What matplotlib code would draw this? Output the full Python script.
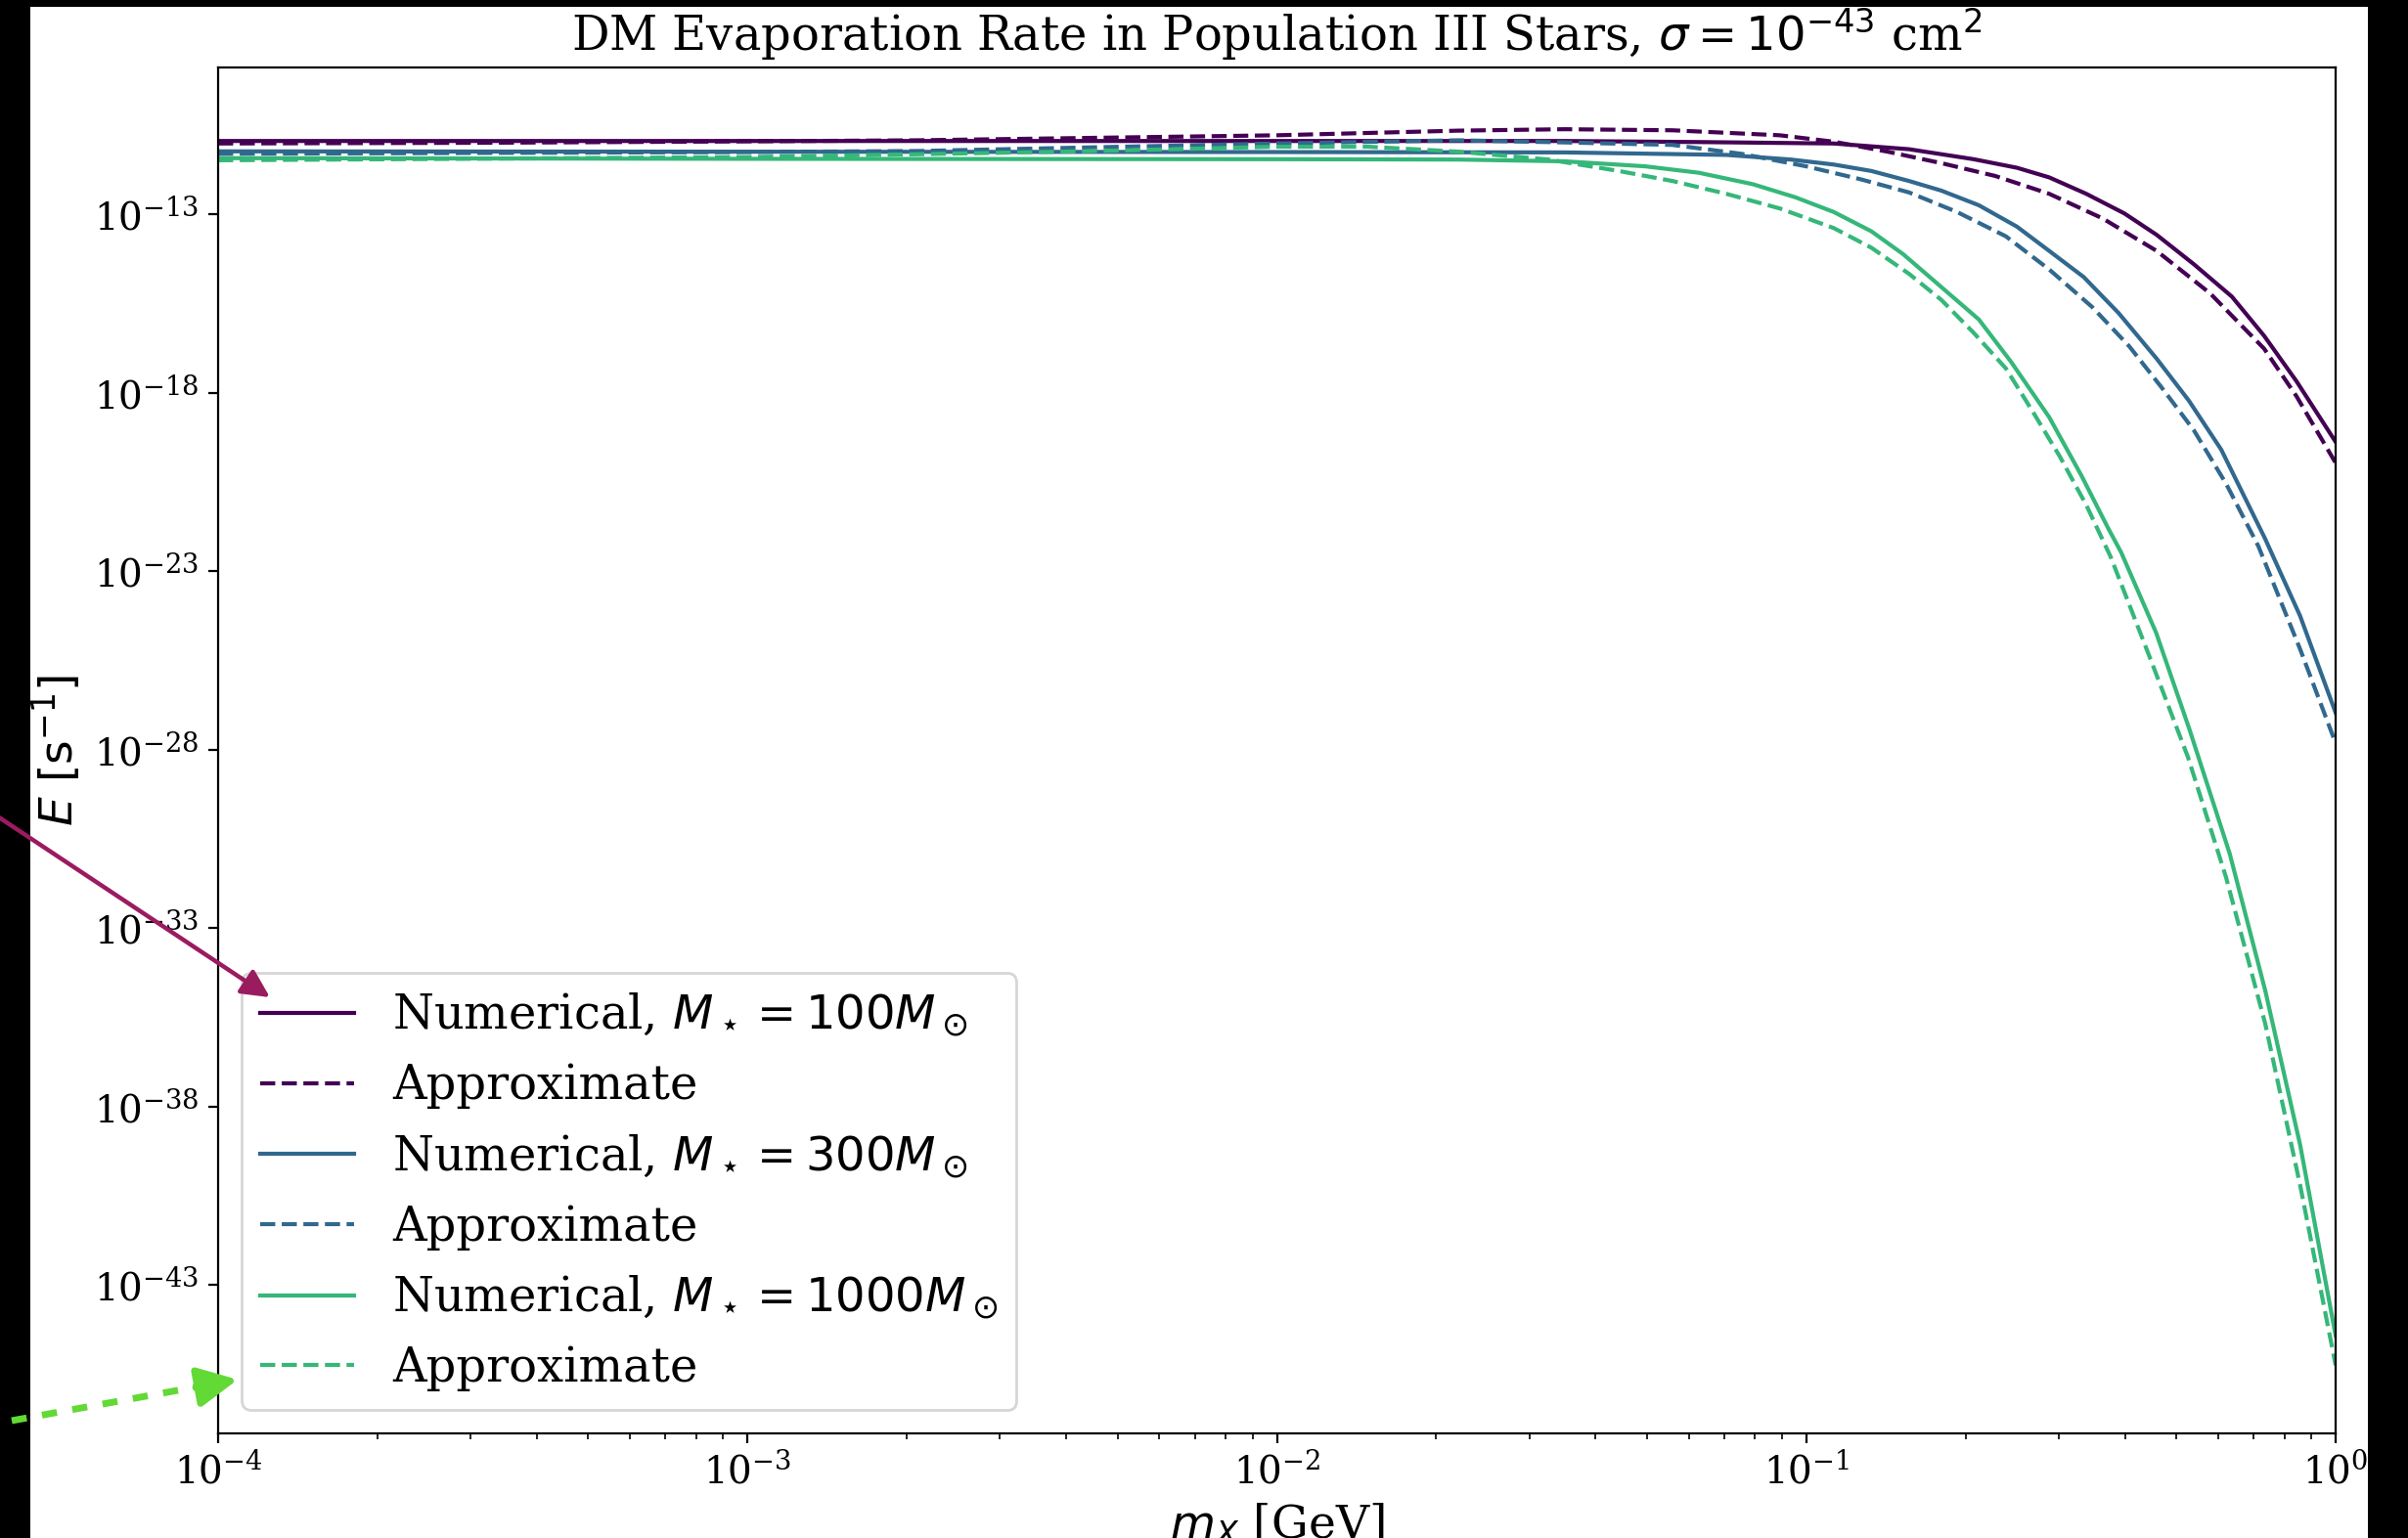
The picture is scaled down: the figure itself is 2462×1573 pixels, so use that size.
import numpy as np
import matplotlib
matplotlib.use('Agg')
import matplotlib.pyplot as plt
from matplotlib.patches import Rectangle, FancyArrowPatch
from matplotlib.lines import Line2D
from matplotlib.ticker import NullLocator

plt.rcParams['font.family'] = 'serif'
plt.rcParams['font.serif'] = ['DejaVu Serif']

# log10(m_X / GeV) and log10(E / s^-1) for each curve
lm_num_100 = [-4.0, -3.0, -2.0, -1.456, -1.2, -0.948, -0.806, -0.684, -0.602, -0.541,
              -0.471, -0.399, -0.338, -0.268, -0.196, -0.135, -0.074, 0.0]
le_num_100 = [-10.95, -10.95, -10.95, -10.95, -10.98, -11.02, -11.18, -11.46, -11.70, -11.97,
              -12.43, -12.98, -13.58, -14.40, -15.31, -16.41, -17.68, -19.38]

lm_apx_100 = [-4.0, -3.5, -3.0, -2.675, -2.0, -1.657, -1.456, -1.253, -1.050, -0.948,
              -0.846, -0.745, -0.643, -0.541, -0.440, -0.338, -0.237, -0.135, -0.074, 0.0]
le_apx_100 = [-11.02, -11.00, -10.96, -10.93, -10.79, -10.66, -10.62, -10.65, -10.79, -10.97,
              -11.25, -11.57, -11.93, -12.43, -13.12, -14.03, -15.22, -16.77, -18.10, -19.97]

lm_num_300 = [-4.0, -3.0, -2.0, -1.456, -1.151, -1.029, -0.948, -0.877, -0.806, -0.745, -0.674,
              -0.602, -0.541, -0.476, -0.410, -0.338, -0.277, -0.216, -0.133, -0.067, 0.0]
le_num_300 = [-11.24, -11.25, -11.26, -11.27, -11.34, -11.47, -11.61, -11.79, -12.07, -12.34, -12.75,
              -13.35, -14.03, -14.76, -15.77, -17.05, -18.23, -19.60, -22.10, -24.26, -26.97]

lm_apx_300 = [-4.0, -3.0, -2.675, -2.0, -1.657, -1.456, -1.253, -1.122, -1.000, -0.898, -0.806,
              -0.715, -0.623, -0.541, -0.460, -0.390, -0.329, -0.268, -0.207, -0.146, -0.067, 0.0]
le_apx_300 = [-11.31, -11.26, -11.23, -11.02, -10.93, -10.99, -11.06, -11.31, -11.66, -12.02, -12.39,
              -12.94, -13.62, -14.55, -15.60, -16.70, -17.85, -19.05, -20.55, -22.30, -25.19, -27.82]

lm_num_1000 = [-4.0, -3.0, -2.0, -1.657, -1.456, -1.304, -1.203, -1.101, -1.020, -0.948, -0.877,
               -0.817, -0.745, -0.674, -0.613, -0.541, -0.480, -0.430, -0.405, -0.339, -0.276,
               -0.200, -0.133, -0.067, 0.0]
le_num_1000 = [-11.43, -11.45, -11.46, -11.47, -11.52, -11.66, -11.84, -12.16, -12.53, -12.94, -13.48,
               -14.12, -15.04, -15.95, -17.14, -18.69, -20.33, -21.79, -22.48, -24.73, -27.44,
               -30.92, -34.75, -39.08, -44.42]

lm_apx_1000 = [-4.0, -3.0, -2.675, -2.335, -2.0, -1.827, -1.657, -1.487, -1.354, -1.253, -1.151,
               -1.050, -0.948, -0.877, -0.806, -0.745, -0.684, -0.623, -0.573, -0.521, -0.471,
               -0.425, -0.352, -0.279, -0.207, -0.133, -0.067, 0.0]
le_apx_1000 = [-11.49, -11.40, -11.32, -11.23, -11.11, -11.11, -11.25, -11.47, -11.79, -12.07, -12.43,
               -12.84, -13.39, -13.94, -14.67, -15.40, -16.32, -17.32, -18.51, -19.79, -21.15,
               -22.60, -25.38, -28.21, -31.58, -35.68, -40.21, -45.25]

stellar_masses = [100, 300, 1000]
y_tick_exp = [-43, -38, -33, -28, -23, -18, -13]

W, H = 2462, 1573
DPI = 200


def fpos(x, y):
    # pixel position -> figure fraction
    return (x / W, 1 - y / H)


fig = plt.figure(figsize=(W / DPI, H / DPI), dpi=DPI)
fig.patch.set_facecolor('black')
fig.add_artist(Rectangle(fpos(31, H), (2421 - 31) / W, 1 - 7 / H,
                         transform=fig.transFigure, facecolor='white',
                         edgecolor='none', zorder=-10))

ax = fig.add_axes([223 / W, 1 - 1466 / H, (2388 - 223) / W, (1466 - 69) / H])

colors = [plt.cm.viridis(v) for v in (0.0, 1 / 3, 2 / 3)]
series = [(lm_num_100, le_num_100, lm_apx_100, le_apx_100),
          (lm_num_300, le_num_300, lm_apx_300, le_apx_300),
          (lm_num_1000, le_num_1000, lm_apx_1000, le_apx_1000)]

for (lm_n, le_n, lm_a, le_a), c, M in zip(series, colors, stellar_masses):
    ax.plot(10.0 ** np.array(lm_n), 10.0 ** np.array(le_n), color=c, lw=1.5,
            label=rf'Numerical, $M_\star = {M} M_\odot$')
    ax.plot(10.0 ** np.array(lm_a), 10.0 ** np.array(le_a), '--', color=c, lw=1.5,
            label='Approximate')

ax.set_xscale('log')
ax.set_yscale('log')
ax.set_xlim(1e-4, 1e0)
ax.set_ylim(10 ** -47.16, 10 ** -8.89)
ax.set_yticks([10.0 ** e for e in y_tick_exp])
ax.yaxis.set_minor_locator(NullLocator())
ax.tick_params(labelsize=14)

ax.set_title(r'DM Evaporation Rate in Population III Stars, $\sigma = 10^{-43}$ cm$^2$',
             fontsize=17.3)
ax.set_xlabel(r'$m_X$ [GeV]', fontsize=17)
ax.set_ylabel(r'$E\ [\mathrm{s}^{-1}]$', fontsize=17)
ax.legend(loc='lower left', fontsize=17.3)

# pointer arrows
arrow1 = FancyArrowPatch(fpos(-10, 830), fpos(276, 1020), transform=fig.transFigure,
                         arrowstyle='-|>,head_length=0.4,head_width=0.2',
                         mutation_scale=21.6, lw=1.6, color='#9b1b5f',
                         shrinkA=0, shrinkB=0, zorder=20)
fig.add_artist(arrow1)

(x0, y0), (x1, y1) = fpos(12, 1453), fpos(209, 1417)
fig.add_artist(Line2D([x0, x1], [y0, y1], transform=fig.transFigure, color='#62d935',
                      lw=2.5, linestyle=(0, (2.23, 2.3)), zorder=20))
arrow2 = FancyArrowPatch(fpos(200, 1419), fpos(243, 1411), transform=fig.transFigure,
                         arrowstyle='-|>,head_length=0.4,head_width=0.2',
                         mutation_scale=30.6, lw=2.5, color='#62d935',
                         shrinkA=0, shrinkB=0, zorder=21)
fig.add_artist(arrow2)

fig.savefig('out.png', dpi=DPI)
